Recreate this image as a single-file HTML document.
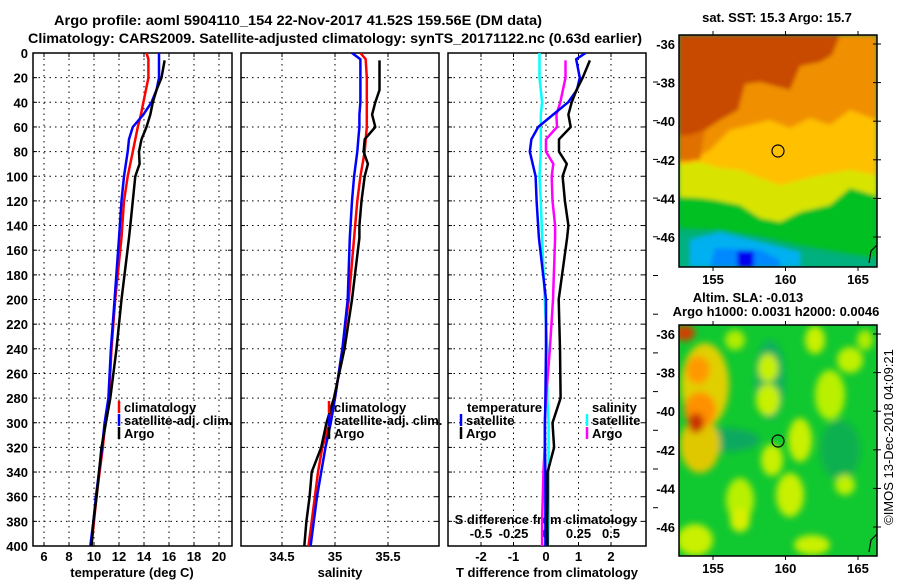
<!DOCTYPE html>
<html><head><meta charset="utf-8"><style>
html,body{margin:0;padding:0;background:#fff;}
svg{display:block;font-family:"Liberation Sans",sans-serif;}
text{font-weight:bold;font-size:13px;fill:#000;}
</style></head><body>
<svg id="fig" width="900" height="580" viewBox="0 0 900 580" xmlns="http://www.w3.org/2000/svg">
<defs>
<filter id="bl" x="-5%" y="-5%" width="110%" height="110%"><feGaussianBlur stdDeviation="2"/></filter>
<filter id="bl2" x="-5%" y="-5%" width="110%" height="110%"><feGaussianBlur stdDeviation="3.5"/></filter>
<clipPath id="c1"><rect x="679" y="35" width="198" height="232"/></clipPath>
<clipPath id="c2"><rect x="679" y="325" width="198" height="231"/></clipPath>
<clipPath id="p1"><rect x="33" y="53" width="199" height="493"/></clipPath>
<clipPath id="p2"><rect x="241" y="53" width="198" height="493"/></clipPath>
<clipPath id="p3"><rect x="448" y="53" width="198" height="493"/></clipPath>
</defs>
<text x="54" y="25" textLength="488" lengthAdjust="spacingAndGlyphs" style="font-size:14px">Argo profile: aoml 5904110_154 22-Nov-2017 41.52S 159.56E (DM data)</text>
<text x="28" y="43" textLength="614" lengthAdjust="spacingAndGlyphs" style="font-size:14px">Climatology: CARS2009. Satellite-adjusted climatology: synTS_20171122.nc (0.63d earlier)</text>

<g id="maps">
<text x="777" y="22" text-anchor="middle">sat. SST: 15.3 Argo: 15.7</text>
<g clip-path="url(#c1)">
<rect x="679" y="35" width="198" height="232" fill="#00b070"/>
<g filter="url(#bl)">
<polygon fill="#00c020" points="679,35 877,35 877,258 840,252 800,245 760,236 720,230 679,228"/>
<polygon fill="#d8e400" points="679,35 877,35 877,196 850,188 830,205 800,212 780,222 760,218 740,205 715,200 700,198 679,197"/>
<polygon fill="#ffc000" points="679,35 877,35 877,175 850,170 820,175 800,180 780,185 760,178 740,170 720,168 700,162 679,165"/>
<polygon fill="#f09000" points="679,35 877,35 877,120 850,110 830,125 810,118 790,128 770,120 750,125 730,130 710,150 690,162 679,162"/>
<polygon fill="#c84a00" points="679,35 840,35 832,55 820,62 800,66 790,90 775,86 760,82 745,84 738,110 720,120 705,130 690,135 679,135"/>
<polygon fill="#e07000" points="679,135 690,135 705,130 700,160 679,160"/>
<polygon fill="#00b080" points="679,235 720,232 760,240 800,250 877,262 877,267 679,267"/>
<polygon fill="#00b0f0" points="690,240 720,232 760,242 800,252 800,267 690,267"/>
<polygon fill="#0088ff" points="715,248 760,250 780,260 780,267 710,267"/>
<rect x="737" y="251" width="17" height="16" fill="#0000f0"/>
</g>
</g>
<rect x="679" y="35" width="198" height="232" fill="none" stroke="#000" stroke-width="1.5"/>
<circle cx="778" cy="151" r="6" fill="none" stroke="#000" stroke-width="1.2"/>

<text x="748" y="302" text-anchor="middle">Altim. SLA: -0.013</text>
<text x="776" y="316" text-anchor="middle">Argo h1000: 0.0031 h2000: 0.0046</text>
<g clip-path="url(#c2)">
<rect x="679" y="325" width="198" height="231" fill="#10c830"/>
<g filter="url(#bl2)">
<ellipse cx="720" cy="440" rx="40" ry="12" fill="#10a860"/>
<ellipse cx="770" cy="380" rx="15" ry="40" fill="#10b060"/>
<ellipse cx="840" cy="450" rx="20" ry="30" fill="#10b050"/>
<ellipse cx="705" cy="385" rx="24" ry="42" fill="#e0d000"/>
<ellipse cx="700" cy="445" rx="20" ry="28" fill="#e0c800"/>
<ellipse cx="700" cy="410" rx="16" ry="18" fill="#ff9000"/>
<ellipse cx="698" cy="370" rx="12" ry="14" fill="#ff9800"/>
<ellipse cx="696" cy="423" rx="8" ry="10" fill="#c83000"/>
<ellipse cx="685" cy="333" rx="10" ry="8" fill="#d04000"/>
<ellipse cx="768" cy="400" rx="12" ry="16" fill="#c8f000"/>
<ellipse cx="768" cy="368" rx="10" ry="14" fill="#c8f000"/>
<ellipse cx="800" cy="440" rx="12" ry="22" fill="#c8f000"/>
<ellipse cx="772" cy="460" rx="11" ry="16" fill="#c8f000"/>
<ellipse cx="790" cy="495" rx="14" ry="22" fill="#c8f000"/>
<ellipse cx="830" cy="395" rx="15" ry="25" fill="#b8f000"/>
<ellipse cx="850" cy="360" rx="13" ry="13" fill="#c0f000"/>
<ellipse cx="815" cy="340" rx="10" ry="14" fill="#c8f000"/>
<ellipse cx="740" cy="500" rx="14" ry="22" fill="#b8f000"/>
<ellipse cx="695" cy="540" rx="18" ry="16" fill="#c8f000"/>
<ellipse cx="812" cy="545" rx="18" ry="10" fill="#c8f000"/>
<ellipse cx="845" cy="485" rx="10" ry="10" fill="#c0f000"/>
<ellipse cx="740" cy="520" rx="10" ry="12" fill="#d8f000"/>
<ellipse cx="735" cy="340" rx="10" ry="10" fill="#b0ec00"/>
<ellipse cx="865" cy="340" rx="8" ry="10" fill="#b0ec00"/>
</g>
</g>
<rect x="679" y="325" width="198" height="231" fill="none" stroke="#000" stroke-width="1.5"/>
<circle cx="778" cy="441" r="6" fill="none" stroke="#000" stroke-width="1.2"/>
<text transform="translate(893,437) rotate(-90)" text-anchor="middle" style="font-weight:normal">©IMOS 13-Dec-2018 04:09:21</text>
</g>

<g id="panels"></g>
</svg>
<script>
// ---- data ----
const tempDepth = [0,5,20,30,40,50,60,70,80,100,120,150,200,240,280,300,320,340,360,380,400];
const argoDepth = [6,20,30,40,50,60,70,80,90,100,120,140,150,200,240,280,300,320,340,360,380,400];
const tempClim = [14.2,14.35,14.35,14.15,13.95,13.75,13.5,13.3,13.1,12.7,12.4,12.2,11.7,11.4,11.2,10.9,10.7,10.45,10.2,10.0,9.8];
const tempSat  = [15.2,15.2,15.2,15.0,14.6,13.95,13.1,12.8,12.7,12.4,12.2,12.0,11.65,11.35,11.15,10.85,10.65,10.4,10.15,9.95,9.7];
const tempArgo = [15.65,15.4,15.0,14.7,14.5,14.2,13.8,13.6,13.65,13.3,13.1,12.9,12.8,12.2,11.8,11.3,10.95,10.6,10.4,10.2,9.95,9.8];
const salClim = [35.24,35.29,35.30,35.30,35.30,35.30,35.30,35.29,35.28,35.24,35.21,35.18,35.13,35.07,35.0,34.95,34.88,34.84,34.81,34.78,34.75];
const salSat  = [35.16,35.24,35.24,35.24,35.24,35.23,35.23,35.22,35.21,35.18,35.16,35.14,35.12,35.07,35.0,34.96,34.91,34.87,34.83,34.80,34.77];
const salArgo = [35.42,35.42,35.42,35.38,35.35,35.38,35.28,35.27,35.31,35.28,35.25,35.23,35.23,35.16,35.09,34.99,34.92,34.87,34.78,34.76,34.73,34.71];
const dTSat  = [1.22,0.93,1.04,0.95,0.68,0.22,-0.24,-0.45,-0.5,-0.32,-0.29,-0.22,0.0,0.0,-0.02,-0.03,-0.03,-0.02,-0.02,-0.02,-0.02];
const dTArgo = [1.35,1.13,0.94,0.79,0.69,0.76,0.40,0.40,0.64,0.51,0.58,0.69,0.65,0.39,0.43,0.45,0.2,0.25,0.05,0.05,0.04,0.05];
const dSSat  = [-0.05,-0.05,-0.05,-0.04,-0.03,-0.04,-0.04,-0.04,-0.04,-0.05,-0.04,-0.03,-0.01,0.01,0.01,0.02,0.02,0.02,0.02,0.02,0.015];
const dSArgo = [0.15,0.15,0.13,0.11,0.08,0.085,0.0,0.0,0.056,0.044,0.05,0.07,0.07,0.054,0.03,0.0,-0.01,-0.01,-0.02,-0.025,-0.03,-0.03];
const depthTicks = [0,20,40,60,80,100,120,140,160,180,200,220,240,260,280,300,320,340,360,380,400];
const tempTicks = [6,8,10,12,14,16,18,20];
const salTicks = [34.5,35,35.5];
const salTickLabels = ["34.5","35","35.5"];
const dTTicks = [-2,-1,0,1,2];
const dSTicks = [-0.5,-0.25,0,0.25,0.5];
const dSTickLabels = ["-0.5","-0.25","0","0.25","0.5"];
const latTicks = [-36,-38,-40,-42,-44,-46];
const lonTicks = [155,160,165];

// ---- scales ----
const yD = d => 53 + d*493/400;
const xT = t => 44 + (t-6)*12.5;
const xS = s => 335 + (s-35)*106;
const xdT = v => 546 + v*32.5;
const xdS = v => 546 + v*130;
const xLon = l => 713 + (l-155)*14.5;
const yLat1 = l => 44 + (-36-l)*19.3;
const yLat2 = l => 334 + (-36-l)*19.3;

const NS="http://www.w3.org/2000/svg";
const root=document.getElementById('panels');
function mk(tag,attrs,parent){const e=document.createElementNS(NS,tag);for(const k in attrs)e.setAttribute(k,attrs[k]);(parent||root).appendChild(e);return e;}
function txt(s,x,y,anchor,parent){const e=mk('text',{x:x,y:y,'text-anchor':anchor||'start'},parent);e.textContent=s;return e;}

const panels=[{x0:33,x1:232,clip:'p1',name:'temperature-panel'},{x0:241,x1:439,clip:'p2',name:'salinity-panel'},{x0:448,x1:646,clip:'p3',name:'difference-panel'}];
panels.forEach((p,i)=>{
  const g=mk('g',{});
  
  
  depthTicks.forEach(d=>{
    if(d>0&&d<400){const l=mk('line',{x1:p.x0,x2:p.x1,y1:yD(d),y2:yD(d),stroke:'#000','stroke-width':1,'stroke-dasharray':'1.5,4'},g);
    
    }
    mk('line',{x1:p.x0,x2:p.x0+4,y1:yD(d),y2:yD(d),stroke:'#000'},g);
    mk('line',{x1:p.x1,x2:p.x1-4,y1:yD(d),y2:yD(d),stroke:'#000'},g);
  });
  let xs=[];
  if(i===0) xs=tempTicks.map(xT);
  if(i===1) xs=salTicks.map(xS);
  if(i===2) xs=dTTicks.map(xdT);
  xs.forEach(x=>{
    const l=mk('line',{x1:x,x2:x,y1:53,y2:546,stroke:'#000','stroke-width':1,'stroke-dasharray':'1.5,4'},g);
    
    
    mk('line',{x1:x,x2:x,y1:53,y2:57,stroke:'#000'},g);
    mk('line',{x1:x,x2:x,y1:546,y2:542,stroke:'#000'},g);
  });
  const r=mk('rect',{x:p.x0,y:53,width:p.x1-p.x0,height:493,fill:'none',stroke:'#000','stroke-width':1.5},g);
  
  
});

depthTicks.forEach(d=>{const t=txt(String(d),28,yD(d)+5,'end');
  
  });
tempTicks.forEach(v=>{const t=txt(String(v),xT(v),561,'middle');
  
  });
salTicks.forEach((v,k)=>{const t=txt(salTickLabels[k],xS(v),561,'middle');
  
  });
dTTicks.forEach(v=>{const t=txt(String(v),xdT(v),561,'middle');
  
  });
dSTicks.forEach((v,k)=>{const t=txt(dSTickLabels[k],xdS(v),538,'middle');
  
  });
let at=txt('temperature (deg C)',132,577,'middle');


at=txt('salinity',340,577,'middle');


at=txt('T difference from climatology',547,577,'middle');


at=txt('S difference from climatology',546,524,'middle');



for(let k=0;k<12;k++){const y=82+k*38.7; if(y>545)break; mk('line',{x1:653,x2:658,y1:y,y2:y,stroke:'#000'});}

function series(depths,vals,xf,color,clip,name,w){
  const pts=depths.map((d,k)=>xf(vals[k]).toFixed(1)+','+yD(d).toFixed(1)).join(' ');
  const e=mk('polyline',{points:pts,fill:'none',stroke:color,'stroke-width':w||2.5,'stroke-linejoin':'round','clip-path':'url(#'+clip+')'});
  
  
}
series(tempDepth,tempClim,xT,'#ff0000','p1','temperature-climatology-line');
series(tempDepth,tempSat,xT,'#0000ff','p1','temperature-satellite-line');
series(argoDepth,tempArgo,xT,'#000000','p1','temperature-argo-line');
series(tempDepth,salClim,xS,'#ff0000','p2','salinity-climatology-line');
series(tempDepth,salSat,xS,'#0000ff','p2','salinity-satellite-line');
series(argoDepth,salArgo,xS,'#000000','p2','salinity-argo-line');
series(tempDepth,dSSat,xdS,'#00ffff','p3','sdiff-satellite-line');
series(argoDepth,dSArgo,xdS,'#ff00ff','p3','sdiff-argo-line');
series(tempDepth,dTSat,xdT,'#0000ff','p3','tdiff-satellite-line');
series(argoDepth,dTArgo,xdT,'#000000','p3','tdiff-argo-line');

function legend(x,y,color,label,name){
  const g=mk('g',{});
  
  
  if(color) mk('line',{x1:x,x2:x,y1:y-11,y2:y+1,stroke:color,'stroke-width':2.5},g);
  txt(label,x+5,y,'start',g);
}
legend(119,412,'#ff0000','climatology','legend-entry-climatology');
legend(119,425,'#0000ff','satellite-adj. clim.','legend-entry-satellite-adj');
legend(119,438,'#000000','Argo','legend-entry-argo');
legend(329,412,'#ff0000','climatology','legend-entry-climatology-sal');
legend(329,425,'#0000ff','satellite-adj. clim.','legend-entry-satellite-adj-sal');
legend(329,438,'#000000','Argo','legend-entry-argo-sal');
legend(462,412,null,'temperature','legend-heading-temperature');
legend(587,412,null,'salinity','legend-heading-salinity');
legend(461,425,'#0000ff','satellite','legend-entry-t-satellite');
legend(461,438,'#000000','Argo','legend-entry-t-argo');
legend(587,425,'#00ffff','satellite','legend-entry-s-satellite');
legend(587,438,'#ff00ff','Argo','legend-entry-s-argo');

[yLat1,yLat2].forEach((yf,m)=>{
  latTicks.forEach(l=>{const y=yf(l);
    const t=txt(String(l),675,y+5,'end');
    
    
    mk('line',{x1:877,x2:873,y1:y,y2:y,stroke:'#000'});
    mk('line',{x1:877,x2:881,y1:y,y2:y,stroke:'#000'});
  });
  const top=m?325:35, bot=m?556:267;
  lonTicks.forEach(l=>{const x=xLon(l);
    mk('line',{x1:x,x2:x,y1:top,y2:top-4,stroke:'#000'});
    mk('line',{x1:x,x2:x,y1:bot,y2:bot+4,stroke:'#000'});
    const t=txt(String(l),x,bot+17,'middle');
    
    
  });
  mk('path',{d:'M877,'+(bot-22)+' l-6,6 l-2,12',fill:'none',stroke:'#000','stroke-width':1.2});
});
</script>
</body></html>
